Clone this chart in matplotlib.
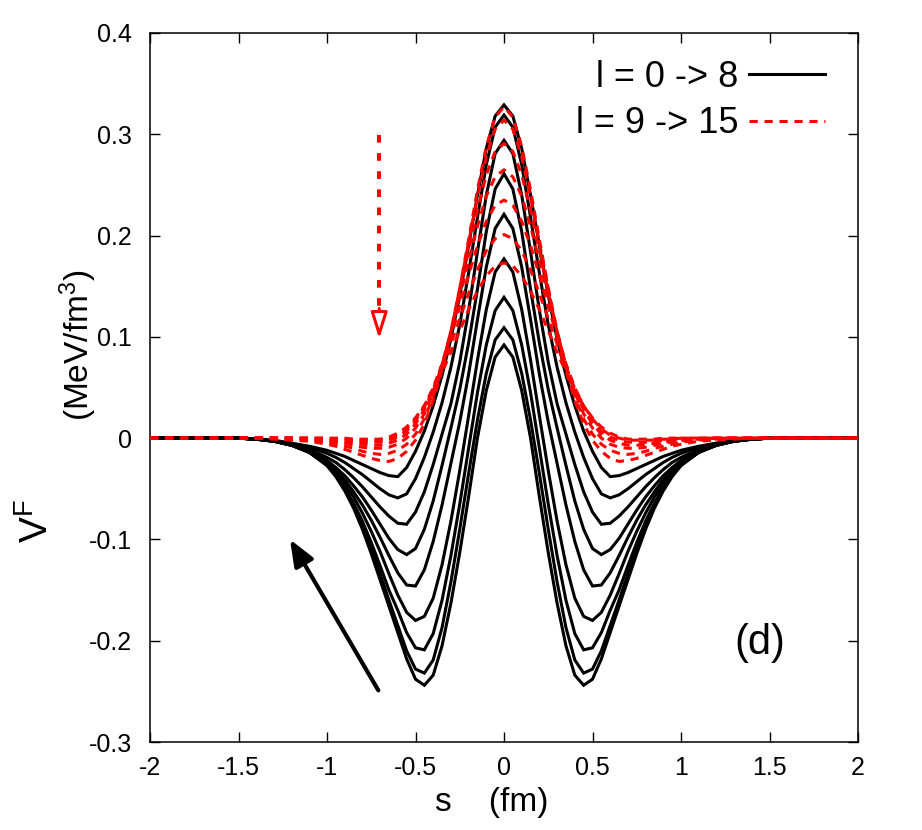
import numpy as np
import matplotlib
matplotlib.use('Agg')
import matplotlib.pyplot as plt
from matplotlib.ticker import FormatStrFormatter

plt.rcParams['font.family'] = ['Liberation Sans', 'DejaVu Sans']
plt.rcParams['mathtext.fontset'] = 'custom'
plt.rcParams['mathtext.rm'] = 'Liberation Sans'
plt.rcParams['mathtext.it'] = 'Liberation Sans'
plt.rcParams['axes.unicode_minus'] = False

# half profile, s >= 0 (curves are symmetric in s)
s_half = [0.0, 0.05, 0.1, 0.15, 0.2, 0.25, 0.3, 0.35, 0.4, 0.45, 0.5,
          0.55, 0.6, 0.65, 0.7, 0.75, 0.8, 0.85, 0.9, 0.95, 1.0,
          1.1, 1.2, 1.3, 1.4, 1.5, 1.6, 2.0]

# l = 0 -> 8 (black)
vf_l0 = [.092, .080, .047, .000, -.058, -.113, -.163, -.205, -.234, -.244, -.238,
         -.218, -.192, -.166, -.140, -.114, -.090, -.069, -.052, -.038, -.027,
         -.014, -.007, -.003, -.001, 0, 0, 0]
vf_l1 = [.109, .097, .064, .018, -.035, -.090, -.142, -.187, -.219, -.232, -.228,
         -.210, -.185, -.160, -.134, -.108, -.086, -.066, -.050, -.037, -.027,
         -.014, -.007, -.003, -.001, 0, 0, 0]
vf_l2 = [.139, .126, .092, .045, -.010, -.065, -.116, -.160, -.193, -.209, -.207,
         -.192, -.170, -.150, -.126, -.103, -.082, -.064, -.049, -.036, -.026,
         -.014, -.007, -.003, -.001, 0, 0, 0]
vf_l3 = [.177, .164, .127, .077, .022, -.032, -.082, -.125, -.158, -.176, -.180,
         -.172, -.155, -.134, -.112, -.092, -.074, -.058, -.045, -.034, -.025,
         -.014, -.007, -.003, -.001, 0, 0, 0]
vf_l4 = [.221, .207, .169, .117, .063, .016, -.025, -.066, -.102, -.130, -.146,
         -.145, -.133, -.116, -.098, -.081, -.066, -.053, -.041, -.031, -.023,
         -.013, -.007, -.003, -.001, 0, 0, 0]
vf_l5 = [.261, .246, .204, .147, .094, .048, .010, -.027, -.062, -.090, -.109,
         -.115, -.110, -.099, -.085, -.071, -.058, -.047, -.037, -.029, -.022,
         -.012, -.006, -.003, -.001, 0, 0, 0]
vf_l6 = [.294, .281, .240, .184, .126, .075, .034, .004, -.026, -.053, -.073,
         -.085, -.084, -.077, -.068, -.058, -.048, -.039, -.031, -.024, -.019,
         -.011, -.006, -.003, -.001, 0, 0, 0]
vf_l7 = [.319, .307, .270, .218, .163, .112, .070, .035, .006, -.019, -.040,
         -.055, -.059, -.056, -.050, -.043, -.036, -.030, -.024, -.019, -.015,
         -.009, -.005, -.002, -.001, 0, 0, 0]
vf_l8 = [.329, .318, .286, .240, .190, .141, .098, .062, .032, .007, -.013,
         -.029, -.038, -.037, -.034, -.030, -.026, -.022, -.018, -.015, -.012,
         -.008, -.005, -.003, -.001, 0, 0, 0]

# l = 9 -> 15 (red dashed)
vf_l9 = [.327, .317, .288, .245, .196, .148, .104, .067, .037, .014, -.002,
         -.013, -.020, -.023, -.022, -.020, -.017, -.014, -.011, -.008, -.006,
         -.003, -.002, -.001, 0, 0, 0, 0]
vf_l10 = [.314, .305, .278, .238, .193, .148, .106, .070, .041, .019, .004,
          -.006, -.012, -.015, -.016, -.015, -.013, -.010, -.008, -.006, -.004,
          -.002, -.001, 0, 0, 0, 0, 0]
vf_l11 = [.291, .283, .260, .225, .185, .144, .105, .072, .045, .024, .010,
          .000, -.006, -.009, -.010, -.010, -.009, -.007, -.005, -.004, -.003,
          -.001, 0, 0, 0, 0, 0, 0]
vf_l12 = [.265, .258, .239, .209, .175, .139, .104, .073, .048, .028, .014,
          .004, -.002, -.005, -.007, -.007, -.006, -.005, -.004, -.003, -.002,
          -.001, 0, 0, 0, 0, 0, 0]
vf_l13 = [.235, .230, .214, .190, .161, .130, .100, .073, .050, .031, .017,
          .007, .001, -.002, -.004, -.004, -.004, -.003, -.002, -.002, -.001,
          0, 0, 0, 0, 0, 0, 0]
vf_l14 = [.201, .197, .185, .166, .143, .118, .093, .069, .049, .032, .019,
          .009, .003, .000, -.002, -.002, -.002, -.002, -.001, -.001, 0,
          0, 0, 0, 0, 0, 0, 0]
vf_l15 = [.173, .170, .160, .145, .127, .106, .085, .065, .047, .032, .020,
          .011, .005, .001, -.001, -.001, -.001, -.001, 0, 0, 0,
          0, 0, 0, 0, 0, 0, 0]

black_curves = [vf_l0, vf_l1, vf_l2, vf_l3, vf_l4, vf_l5, vf_l6, vf_l7, vf_l8]
red_curves = [vf_l9, vf_l10, vf_l11, vf_l12, vf_l13, vf_l14, vf_l15]

xticks = [-2, -1.5, -1, -0.5, 0, 0.5, 1, 1.5, 2]
yticks = [-0.3, -0.2, -0.1, 0, 0.1, 0.2, 0.3, 0.4]

# arrows (data coords)
black_arrow_tail = (-0.71, -0.249)
black_arrow_head = (-1.209, -0.100)
red_arrow_x = -0.705
red_arrow_top = 0.299
red_arrow_tip = 0.098


def full_curve(vals):
    s = np.array(s_half)
    v = np.array(vals)
    return np.concatenate([-s[::-1], s[1:]]), np.concatenate([v[::-1], v[1:]])


fig = plt.figure(figsize=(9.22, 8.3), dpi=100)
ax = fig.add_axes([150 / 922, 88 / 830, 708 / 922, 709 / 830])

for i, vals in enumerate(black_curves):
    x, y = full_curve(vals)
    ax.plot(x, y, color='black', lw=2.2, solid_joinstyle='miter',
            label='l = 0 -> 8' if i == 0 else None, zorder=2)

for i, vals in enumerate(red_curves):
    x, y = full_curve(vals)
    ax.plot(x, y, color='#ff0000', lw=2.2, dashes=(2.7, 2.2),
            label='l = 9 -> 15' if i == 0 else None, zorder=3)

# black arrow
ax.annotate('', xy=black_arrow_head, xytext=black_arrow_tail,
            arrowprops=dict(arrowstyle='-|>,head_length=0.8,head_width=0.32',
                            lw=3, color='black', mutation_scale=20,
                            shrinkA=0, shrinkB=0))

# red dashed arrow
ax.plot([red_arrow_x, red_arrow_x], [red_arrow_top, red_arrow_tip + 0.02],
        color='#ff0000', lw=2.9, dashes=(1.9, 2.6))
ax.annotate('', xy=(red_arrow_x, red_arrow_tip),
            xytext=(red_arrow_x, red_arrow_tip + 0.03),
            arrowprops=dict(arrowstyle='-|>,head_length=0.8,head_width=0.25',
                            lw=2.2, ec='#ff0000', fc='white', mutation_scale=20,
                            shrinkA=0, shrinkB=0))

ax.text(1.446, -0.202, '(d)', fontsize=30, ha='center', va='center')

ax.set_xlim(-2, 2)
ax.set_ylim(-0.3, 0.4)
ax.set_xticks(xticks)
ax.set_yticks(yticks)
ax.xaxis.set_major_formatter(FormatStrFormatter('%g'))
ax.yaxis.set_major_formatter(FormatStrFormatter('%g'))
ax.tick_params(direction='in', length=7, width=1.0, top=True, right=True,
               labelsize=18)
ax.tick_params(axis='x', pad=10)
ax.tick_params(axis='y', pad=13)
for sp in ax.spines.values():
    sp.set_linewidth(1.1)

ax.legend(loc='upper right', bbox_to_anchor=(0.953, 0.962), frameon=False,
          markerfirst=False, handlelength=2.1, handletextpad=0.3,
          fontsize=26, labelspacing=0.32, borderpad=0, borderaxespad=0)

fig.text(492 / 922, 1 - 802 / 830, 's    (fm)', fontsize=24,
         ha='center', va='center')
fig.text(37 / 922, 1 - 521 / 830, r'V$^{\mathrm{F}}$', fontsize=28,
         rotation=90, ha='center', va='center')
fig.text(78 / 922, 1 - 345 / 830, r'(MeV/fm$^3$)', fontsize=24,
         rotation=90, ha='center', va='center')

fig.savefig('out.png', dpi=100)
